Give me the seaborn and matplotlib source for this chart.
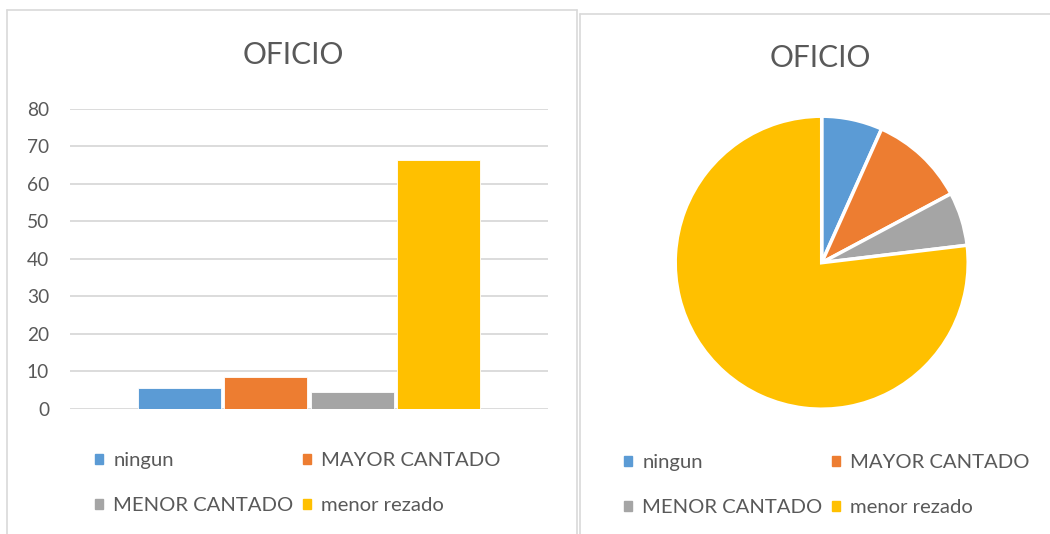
import matplotlib
matplotlib.use("Agg")
import matplotlib.pyplot as plt
import matplotlib.patches as mpatches
from matplotlib.lines import Line2D
import seaborn as sns
import pandas as pd

# === Data ===
categorias = ['ningun', 'MAYOR CANTADO', 'MENOR CANTADO', 'menor rezado']
valores_barras = [5.4, 8.4, 4.4, 66.5]
porcentajes_pie = [6.7, 10.5, 5.9, 76.9]
colores = ['#5B9BD5', '#ED7D31', '#A5A5A5', '#FFC000']
yticks = [0, 10, 20, 30, 40, 50, 60, 70, 80]
titulo = 'OFICIO'

sns.set_theme(style='white')
plt.rcParams['font.family'] = ['Lato', 'DejaVu Sans']
texto = '#595959'
borde = '#D9D9D9'

W, H = 1050, 534
fig = plt.figure(figsize=(W / 100, H / 100), dpi=100)


def fx(px):
    return px / W


def fy(py):
    return 1 - py / H


# === Panel borders ===
for x0, y0, x1, y1 in [(7, 10, 577, 540), (580, 14, 1060, 540)]:
    fig.add_artist(Line2D([fx(x0), fx(x1)], [fy(y0), fy(y0)], color=borde, lw=1.2))
    fig.add_artist(Line2D([fx(x0), fx(x0)], [fy(y0), fy(y1)], color=borde, lw=1.2))
    fig.add_artist(Line2D([fx(x1), fx(x1)], [fy(y0), fy(y1)], color=borde, lw=1.2))

# === Bar chart ===
ax = fig.add_axes([fx(70), fy(408.7), fx(548) - fx(70), fy(109) - fy(408.7)])
df = pd.DataFrame({'grupo': [titulo] * 4, 'categoria': categorias, 'valor': valores_barras})
sns.barplot(data=df, x='grupo', y='valor', hue='categoria', hue_order=categorias,
            palette=colores, saturation=1, width=0.723, gap=0.04, legend=False, ax=ax,
            edgecolor='white', linewidth=0.6)
ax.set_xlim(-0.5, 0.5)
ax.set_ylim(0, 80)
ax.set_yticks(yticks)
ax.set_xticks([])
ax.set_xlabel('')
ax.set_ylabel('')
ax.yaxis.grid(True, color=borde, lw=1.3)
ax.set_axisbelow(True)
for s in ax.spines.values():
    s.set_visible(False)
ax.tick_params(axis='y', length=0, pad=15, labelsize=13.8, labelcolor=texto)

fig.text(fx(293), fy(55), titulo, ha='center', va='center', fontsize=21.5,
         color=texto)

handles = [mpatches.Patch(color=c, label=l) for c, l in zip(colores, categorias)]
leg_kw = dict(ncol=2, frameon=False, fontsize=14.6, handlelength=0.4, handleheight=0.4,
              handletextpad=0.5, columnspacing=0.45, labelspacing=1.4,
              borderpad=0, borderaxespad=0, labelcolor=texto, loc='upper left')
# matplotlib fills legend columns first, so reorder to read row by row
orden = [0, 2, 1, 3]
fig.legend([handles[i] for i in orden], [categorias[i] for i in orden],
           bbox_to_anchor=(fx(95), fy(452)), **leg_kw)

# === Pie chart ===
r = 146.5
cx, cy = 821.7, 262.7
axp = fig.add_axes([fx(cx - r), fy(cy + r), 2 * r / W, 2 * r / H])
axp.pie(porcentajes_pie, colors=colores, startangle=90, counterclock=False,
        wedgeprops=dict(edgecolor='white', linewidth=2.5))
axp.set_xlim(-1, 1)
axp.set_ylim(-1, 1)
axp.set_aspect('auto')

fig.text(fx(820), fy(58), titulo, ha='center', va='center', fontsize=21.5,
         color=texto)
fig.legend([handles[i] for i in orden], [categorias[i] for i in orden],
           bbox_to_anchor=(fx(624), fy(454)), **leg_kw)

fig.savefig('out.png', dpi=100, facecolor='white')
